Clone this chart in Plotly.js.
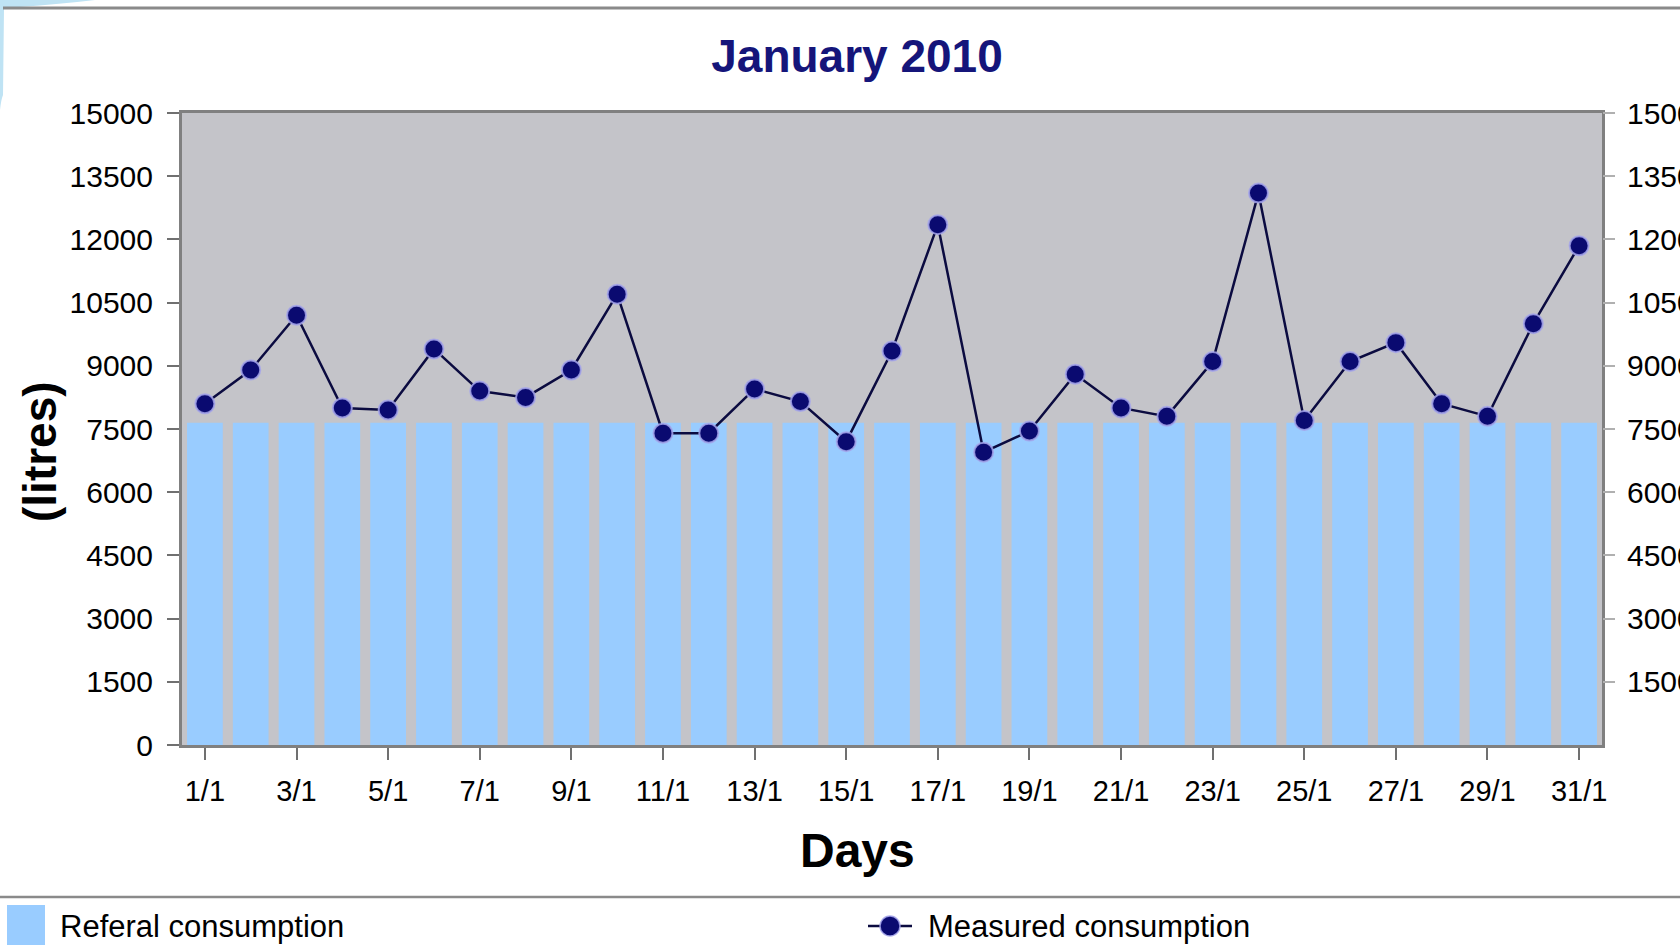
<!DOCTYPE html>
<html>
<head>
<meta charset="utf-8">
<script src="https://cdn.plot.ly/plotly-3.0.1.min.js"></script>
<style>
  html, body { margin: 0; padding: 0; background: #ffffff; }
  #chart { width: 1680px; height: 951px; }
</style>
</head>
<body>
<div id="chart"></div>
<script>
// ---- Data ----
const days = ["1/1","2/1","3/1","4/1","5/1","6/1","7/1","8/1","9/1","10/1",
              "11/1","12/1","13/1","14/1","15/1","16/1","17/1","18/1","19/1","20/1",
              "21/1","22/1","23/1","24/1","25/1","26/1","27/1","28/1","29/1","30/1","31/1"];
const tickLabels = ["1/1","3/1","5/1","7/1","9/1","11/1","13/1","15/1","17/1","19/1",
                    "21/1","23/1","25/1","27/1","29/1","31/1"];
const referalConsumption = [7650,7650,7650,7650,7650,7650,7650,7650,7650,7650,
                            7650,7650,7650,7650,7650,7650,7650,7650,7650,7650,
                            7650,7650,7650,7650,7650,7650,7650,7650,7650,7650,7650];
const measuredConsumption = [8100,8900,10200,8000,7950,9400,8400,8250,8900,10700,
                             7400,7400,8450,8150,7200,9350,12350,6950,7450,8800,
                             8000,7800,9100,13100,7700,9100,9550,8100,7800,10000,11850];
const yTicks = [0,1500,3000,4500,6000,7500,9000,10500,12000,13500,15000];

// ---- Geometry helpers (pixel -> paper) ----
const W = 1680, H = 951;
const L = 182, R = 1602, T = 113, B = 745;
const px = x => (x - L) / (R - L);
const py = y => (B - y) / (B - T);

const FONT = "Liberation Sans, Arial, Helvetica, sans-serif";

const traces = [
  {
    type: "bar",
    name: "Referal consumption",
    x: days,
    y: referalConsumption,
    marker: { color: "#99ccff", line: { width: 0 } },
    hoverinfo: "x+y"
  },
  {
    type: "scatter",
    mode: "lines+markers",
    name: "Measured consumption",
    x: days,
    y: measuredConsumption,
    line: { color: "#0b0b40", width: 2.5 },
    marker: { color: "#0a0a70", size: 19, line: { color: "rgba(165,165,235,0.85)", width: 2 } }
  },
  {
    type: "scatter",
    mode: "markers",
    x: days,
    y: measuredConsumption,
    yaxis: "y2",
    marker: { opacity: 0 },
    hoverinfo: "skip",
    showlegend: false
  }
];

const layout = {
  width: W,
  height: H,
  margin: { l: L, r: W - R, t: T, b: H - B, pad: 0 },
  paper_bgcolor: "#ffffff",
  plot_bgcolor: "#c4c4c9",
  showlegend: false,
  bargap: 0.22,
  font: { family: FONT, color: "#000000" },
  title: {
    text: "<b>January 2010</b>",
    font: { family: FONT, size: 46, color: "#15157a" },
    x: 857 / W, xref: "container", xanchor: "center",
    y: 1 - 56 / H, yref: "container", yanchor: "middle"
  },
  xaxis: {
    type: "category",
    tickmode: "array",
    tickvals: tickLabels,
    ticktext: tickLabels,
    range: [-0.5, 30.5],
    ticks: "outside",
    ticklen: 12,
    tickwidth: 2,
    tickcolor: "#707070",
    tickfont: { family: FONT, size: 29, color: "#000000" },
    ticklabelstandoff: 6,
    showline: true,
    linecolor: "#808080",
    linewidth: 3,
    mirror: true,
    showgrid: false,
    zeroline: false,
    automargin: false,
    fixedrange: true
  },
  yaxis: {
    range: [0, 15000],
    tickmode: "array",
    tickvals: yTicks,
    ticktext: yTicks.map(String),
    ticks: "outside",
    ticklen: 12,
    tickwidth: 2,
    tickcolor: "#707070",
    tickfont: { family: FONT, size: 30, color: "#000000" },
    ticklabelstandoff: 8,
    showline: true,
    linecolor: "#808080",
    linewidth: 3,
    mirror: true,
    showgrid: false,
    zeroline: false,
    automargin: false,
    fixedrange: true
  },
  yaxis2: {
    overlaying: "y",
    side: "right",
    range: [0, 15000],
    tickmode: "array",
    tickvals: yTicks.slice(1),
    ticktext: yTicks.slice(1).map(String),
    ticks: "outside",
    ticklen: 12,
    tickwidth: 2,
    tickcolor: "#b0b0b0",
    tickfont: { family: FONT, size: 30, color: "#000000" },
    ticklabelstandoff: 6,
    showline: false,
    showgrid: false,
    zeroline: false,
    automargin: false,
    fixedrange: true
  },
  annotations: [
    {
      text: "<b>(litres)</b>",
      xref: "paper", yref: "paper",
      x: px(40), y: py(452),
      xanchor: "center", yanchor: "middle",
      textangle: -90, showarrow: false,
      font: { family: FONT, size: 46, color: "#000000" }
    },
    {
      text: "<b>Days</b>",
      xref: "paper", yref: "paper",
      x: px(857), y: py(850),
      xanchor: "center", yanchor: "middle",
      showarrow: false,
      font: { family: FONT, size: 48, color: "#000000" }
    },
    {
      text: "Referal consumption",
      xref: "paper", yref: "paper",
      x: px(58), y: py(926),
      xanchor: "left", yanchor: "middle",
      showarrow: false,
      font: { family: FONT, size: 31, color: "#000000" }
    },
    {
      text: "Measured consumption",
      xref: "paper", yref: "paper",
      x: px(926), y: py(926),
      xanchor: "left", yanchor: "middle",
      showarrow: false,
      font: { family: FONT, size: 31, color: "#000000" }
    }
  ],
  shapes: [
    // top separator line
    { type: "line", xref: "paper", yref: "paper", x0: px(3), x1: px(1680), y0: py(8), y1: py(8),
      line: { color: "#8a8a8a", width: 3 } },
    // legend separator line
    { type: "line", xref: "paper", yref: "paper", x0: px(0), x1: px(1680), y0: py(897), y1: py(897),
      line: { color: "#8a8a8a", width: 2.5 } },
    // top-left decoration
    { type: "path", xref: "paper", yref: "paper",
      path: `M ${px(0)},${py(0)} L ${px(95)},${py(0)} Q ${px(60)},${py(4)} ${px(20)},${py(7)} L ${px(4)},${py(9)} L ${px(3)},${py(95)} Q ${px(1)},${py(100)} ${px(0)},${py(110)} Z`,
      fillcolor: "#bfe3f4", line: { width: 0 }, layer: "below" },
    // legend swatch: bars
    { type: "rect", xref: "paper", yref: "paper", x0: px(7), x1: px(45), y0: py(905), y1: py(945),
      fillcolor: "#99ccff", line: { width: 0 } },
    // legend swatch: line + marker
    { type: "line", xref: "paper", yref: "paper", x0: px(868), x1: px(912), y0: py(926), y1: py(926),
      line: { color: "#0b0b40", width: 2.5 } },
    { type: "circle", xref: "paper", yref: "paper", x0: px(880), x1: px(900), y0: py(916), y1: py(936),
      fillcolor: "#0a0a70", line: { color: "rgba(165,165,235,0.85)", width: 1.5 } }
  ]
};

Plotly.newPlot("chart", traces, layout, { displayModeBar: false, staticPlot: true });
</script>
</body>
</html>
